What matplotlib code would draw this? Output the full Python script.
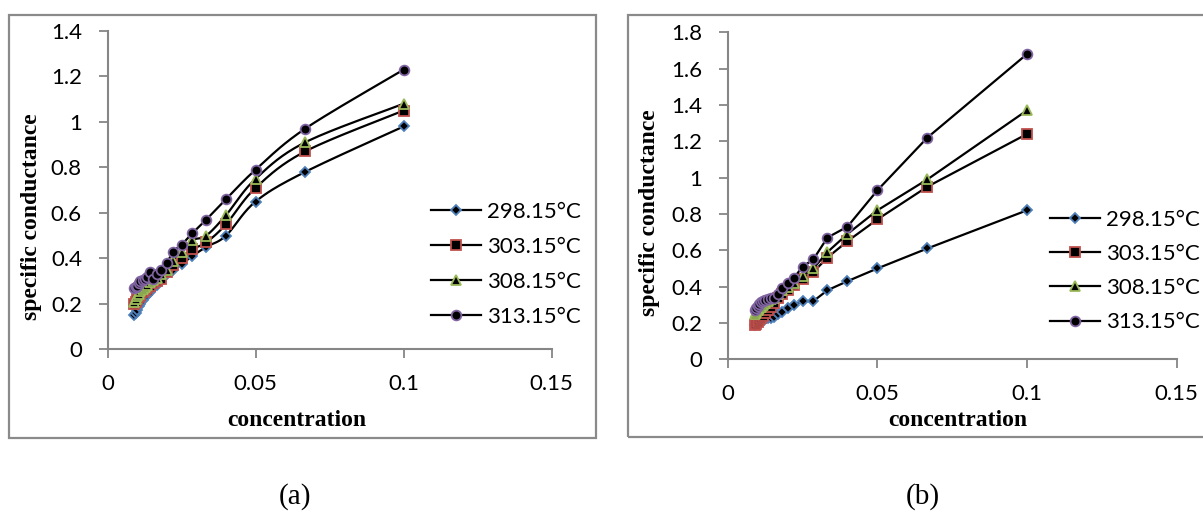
import numpy as np
import matplotlib
matplotlib.use("Agg")
import matplotlib.pyplot as plt
from matplotlib.patches import Rectangle
from matplotlib.ticker import FuncFormatter

# ---------------- data ----------------
conc = [0.009, 0.0095, 0.01, 0.0105, 0.0111, 0.0118, 0.0125, 0.0133, 0.0143, 0.0154,
        0.0167, 0.0182, 0.02, 0.0222, 0.025, 0.0286, 0.0333, 0.04, 0.05, 0.0667, 0.1]
series_labels = ["298.15°C", "303.15°C", "308.15°C", "313.15°C"]

a_298 = [0.15, 0.16, 0.175, 0.19, 0.20, 0.215, 0.23, 0.24, 0.25, 0.27, 0.285, 0.31, 0.33,
         0.35, 0.375, 0.41, 0.45, 0.50, 0.65, 0.78, 0.98]
a_303 = [0.20, 0.21, 0.22, 0.23, 0.24, 0.25, 0.26, 0.27, 0.28, 0.29, 0.30, 0.31, 0.34,
         0.37, 0.40, 0.44, 0.47, 0.55, 0.71, 0.87, 1.05]
a_308 = [0.21, 0.22, 0.235, 0.245, 0.255, 0.265, 0.275, 0.285, 0.295, 0.305, 0.315, 0.33,
         0.35, 0.39, 0.43, 0.48, 0.50, 0.59, 0.75, 0.91, 1.08]
a_313 = [0.27, 0.275, 0.28, 0.29, 0.30, 0.305, 0.31, 0.32, 0.34, 0.31, 0.33, 0.35, 0.38,
         0.43, 0.46, 0.51, 0.57, 0.66, 0.79, 0.97, 1.23]

b_298 = [0.19, 0.195, 0.20, 0.205, 0.21, 0.215, 0.22, 0.225, 0.23, 0.235, 0.25, 0.26, 0.28,
         0.30, 0.32, 0.32, 0.38, 0.43, 0.50, 0.61, 0.82]
b_303 = [0.19, 0.195, 0.205, 0.215, 0.23, 0.24, 0.255, 0.27, 0.29, 0.31, 0.335, 0.36, 0.38,
         0.41, 0.44, 0.48, 0.56, 0.65, 0.77, 0.95, 1.24]
b_308 = [0.25, 0.26, 0.27, 0.28, 0.29, 0.30, 0.31, 0.32, 0.33, 0.34, 0.36, 0.38, 0.40,
         0.42, 0.46, 0.50, 0.59, 0.69, 0.82, 0.99, 1.37]
b_313 = [0.27, 0.285, 0.295, 0.305, 0.315, 0.32, 0.325, 0.33, 0.335, 0.34, 0.36, 0.39, 0.42,
         0.45, 0.51, 0.55, 0.67, 0.73, 0.93, 1.22, 1.68]

x_ticks = [0, 0.05, 0.1, 0.15]
a_yticks = [0, 0.2, 0.4, 0.6, 0.8, 1.0, 1.2, 1.4]
b_yticks = [0, 0.2, 0.4, 0.6, 0.8, 1.0, 1.2, 1.4, 1.6, 1.8]

# ---------------- styles ----------------
marker_styles = [
    dict(marker="D", ms=5.0, mec="#4f81bd"),
    dict(marker="s", ms=6.5, mec="#c0504d"),
    dict(marker="^", ms=6.5, mec="#9bbb59"),
    dict(marker="o", ms=7.0, mec="#8064a2"),
]
GRAY = "#868686"
TICK_FONT = "Lato"
SERIF = "Liberation Serif"


def smooth(x, y, xr, yr, n=20):
    """Excel-like smoothed line (Catmull-Rom Bezier in screen-normalised space)."""
    x = np.asarray(x, float) / xr
    y = np.asarray(y, float) / yr
    P = np.column_stack([x, y])
    out = []
    for i in range(len(P) - 1):
        p0 = P[i - 1] if i > 0 else P[i]
        p1, p2 = P[i], P[i + 1]
        p3 = P[i + 2] if i + 2 < len(P) else P[i + 1]
        c1 = p1 + (p2 - p0) / 6.0
        c2 = p2 - (p3 - p1) / 6.0
        t = np.linspace(0, 1, n)[:, None]
        seg = ((1 - t) ** 3) * p1 + 3 * ((1 - t) ** 2) * t * c1 + 3 * (1 - t) * t ** 2 * c2 + t ** 3 * p2
        out.append(seg if i == 0 else seg[1:])
    S = np.vstack(out)
    return S[:, 0] * xr, S[:, 1] * yr


fig = plt.figure(figsize=(12.03, 5.12), dpi=100)


def px(x0, y0, w, h):
    return [x0 / 1203, 1 - (y0 + h) / 512, w / 1203, h / 512]


def setup_axes(ax, ymax, yticks):
    ax.set_xlim(0, 0.15)
    ax.set_ylim(0, ymax)
    ax.set_xticks(x_ticks)
    ax.set_yticks(yticks)
    fmt = FuncFormatter(lambda v, p: ("%g" % round(v, 4)))
    ax.xaxis.set_major_formatter(fmt)
    ax.yaxis.set_major_formatter(fmt)
    for s in ["top", "right"]:
        ax.spines[s].set_visible(False)
    for s in ["left", "bottom"]:
        ax.spines[s].set_color(GRAY)
        ax.spines[s].set_linewidth(1.5)
    ax.tick_params(axis="both", direction="out", length=6.5, width=1.3, color=GRAY,
                   labelsize=16, labelcolor="black")
    ax.tick_params(axis="y", pad=12)
    ax.tick_params(axis="x", pad=11)
    for lab in ax.get_xticklabels() + ax.get_yticklabels():
        lab.set_fontfamily(TICK_FONT)
    ax.patch.set_alpha(0)


# ---------- panel borders ----------
fig.patches.append(Rectangle((9 / 1203, 1 - 438 / 512), 587 / 1203, 423 / 512,
                             transform=fig.transFigure, fill=False, ec="#8a8a8a", lw=1.6))
fig.patches.append(Rectangle((628 / 1203, 1 - 437 / 512), 600 / 1203, 422 / 512,
                             transform=fig.transFigure, fill=False, ec="#8a8a8a", lw=1.6))

# ---------- panel (a) ----------
axA = fig.add_axes(px(107.6, 31, 444, 318.3))
setup_axes(axA, 1.4, a_yticks)
handles = []
for ys, st, lab in zip([a_298, a_303, a_308, a_313], marker_styles, series_labels):
    sx, sy = smooth(conc, ys, 0.15, 1.4)
    axA.plot(sx, sy, color="black", lw=1.6, zorder=2)
    axA.plot(conc, ys, ls="none", marker=st["marker"], ms=st["ms"], mfc="black",
             mec=st["mec"], mew=1.3, zorder=3)
    h, = axA.plot([], [], color="black", lw=1.6, marker=st["marker"], ms=st["ms"],
                  mfc="black", mec=st["mec"], mew=1.3, label=lab)
    handles.append(h)
axA.legend(handles=handles, loc="center left", bbox_to_anchor=(431 / 1203, 1 - 264.5 / 512),
           bbox_transform=fig.transFigure, frameon=False, borderpad=0, borderaxespad=0,
           handlelength=2.25, handletextpad=0.28, labelspacing=0.68,
           prop={"family": TICK_FONT, "size": 16})
fig.text(297 / 1203, 1 - 421 / 512, "concentration", ha="center", va="center",
         family=SERIF, weight="bold", fontsize=17)
fig.text(31.4 / 1203, 1 - 217 / 512, "specific conductance", ha="center", va="center",
         rotation=90, family=SERIF, weight="bold", fontsize=17)
fig.text(295 / 1203, 1 - 497 / 512, "(a)", ha="center", va="center", family=SERIF, fontsize=21)

# ---------- panel (b) ----------
axB = fig.add_axes(px(727.8, 32.3, 448.7, 327))
setup_axes(axB, 1.8, b_yticks)
for ys, st, lab in zip([b_298, b_303, b_308, b_313], marker_styles, series_labels):
    axB.plot(conc, ys, color="black", lw=1.6, marker=st["marker"], ms=st["ms"], mfc="black",
             mec=st["mec"], mew=1.3, zorder=3, label=lab)
axB.legend(loc="center left", bbox_to_anchor=(1050 / 1203, 1 - 271 / 512),
           bbox_transform=fig.transFigure, frameon=False, borderpad=0, borderaxespad=0,
           handlelength=2.25, handletextpad=0.28, labelspacing=0.64,
           prop={"family": TICK_FONT, "size": 16})
fig.text(958 / 1203, 1 - 421 / 512, "concentration", ha="center", va="center",
         family=SERIF, weight="bold", fontsize=17)
fig.text(649.5 / 1203, 1 - 213 / 512, "specific conductance", ha="center", va="center",
         rotation=90, family=SERIF, weight="bold", fontsize=17)
fig.text(923 / 1203, 1 - 497 / 512, "(b)", ha="center", va="center", family=SERIF, fontsize=21)

fig.savefig("out.png", dpi=100)
